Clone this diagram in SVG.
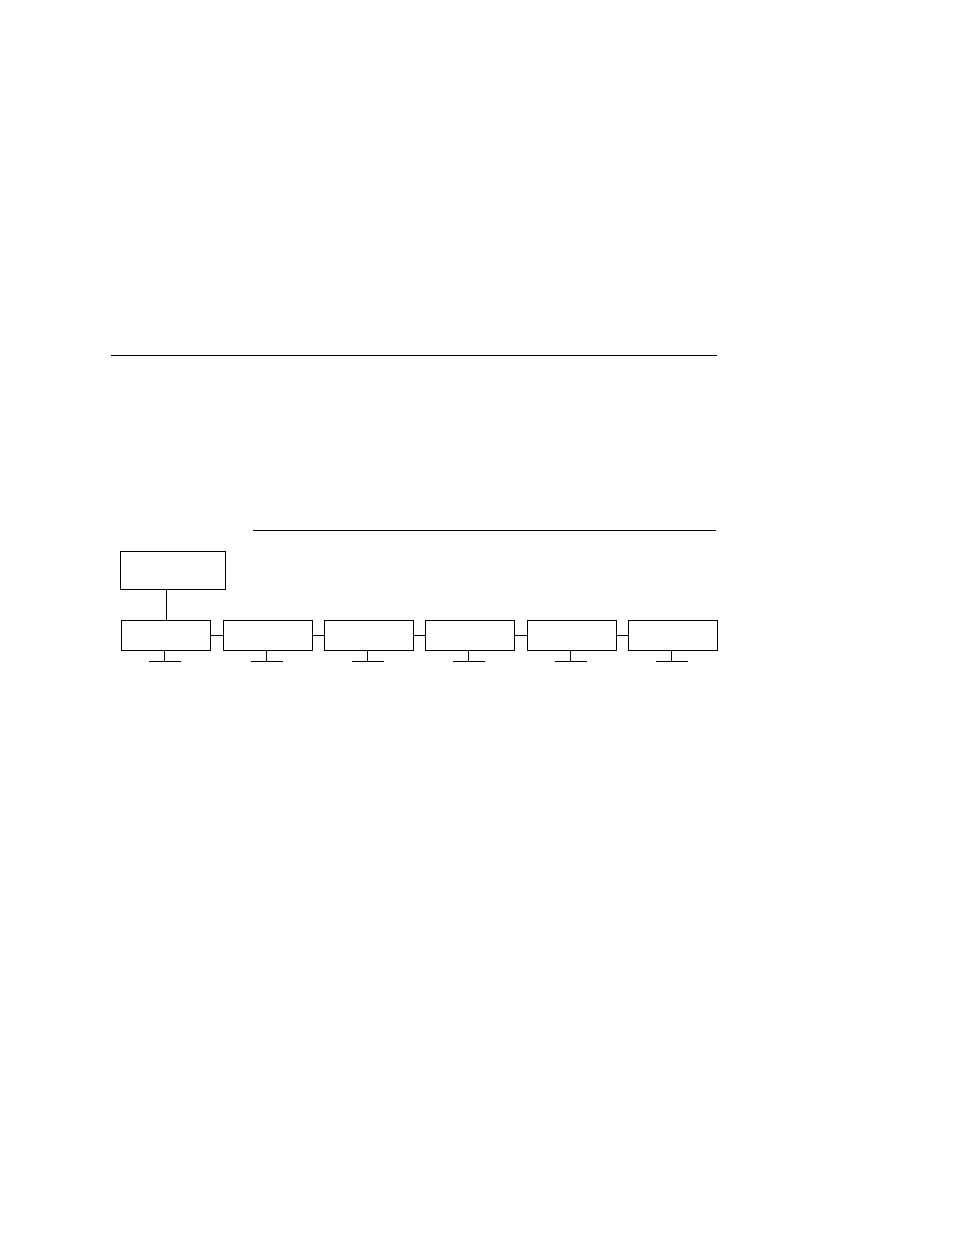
<svg xmlns="http://www.w3.org/2000/svg" width="954" height="1235" viewBox="0 0 954 1235">
<style>
.b{fill:#fff;stroke:#000;stroke-width:1}
.l{stroke:#000;stroke-width:1;fill:none}
</style>
<rect width="954" height="1235" fill="#fff"/>
<line class="l" x1="111" y1="355.5" x2="717" y2="355.5"/>
<line class="l" x1="253" y1="530.5" x2="716" y2="530.5"/>
<g id="connectors">
<line class="l" x1="166.5" y1="589" x2="166.5" y2="620"/>
<line class="l" x1="210.5" y1="635.5" x2="223.5" y2="635.5"/>
<line class="l" x1="312.5" y1="635.5" x2="324.5" y2="635.5"/>
<line class="l" x1="413.5" y1="635.5" x2="425.5" y2="635.5"/>
<line class="l" x1="514.5" y1="635.5" x2="527.5" y2="635.5"/>
<line class="l" x1="616" y1="635.5" x2="628.5" y2="635.5"/>
<path class="l" d="M164.5 650V661.5M149 661.5H181"/>
<path class="l" d="M266.5 650V661.5M251 661.5H283"/>
<path class="l" d="M367.5 650V661.5M352 661.5H384"/>
<path class="l" d="M468.5 650V661.5M453 661.5H485"/>
<path class="l" d="M570.5 650V661.5M555 661.5H587"/>
<path class="l" d="M671.5 650V661.5M656 661.5H688"/>
</g>
<g id="root"><rect class="b" x="120.5" y="551.5" width="105" height="38"/></g>
<g id="n1"><rect class="b" x="121.5" y="620.5" width="89" height="30"/></g>
<g id="n2"><rect class="b" x="223.5" y="620.5" width="89" height="30"/></g>
<g id="n3"><rect class="b" x="324.5" y="620.5" width="89" height="30"/></g>
<g id="n4"><rect class="b" x="425.5" y="620.5" width="89" height="30"/></g>
<g id="n5"><rect class="b" x="527.5" y="620.5" width="89" height="30"/></g>
<g id="n6"><rect class="b" x="628.5" y="620.5" width="89" height="30"/></g>
</svg>
